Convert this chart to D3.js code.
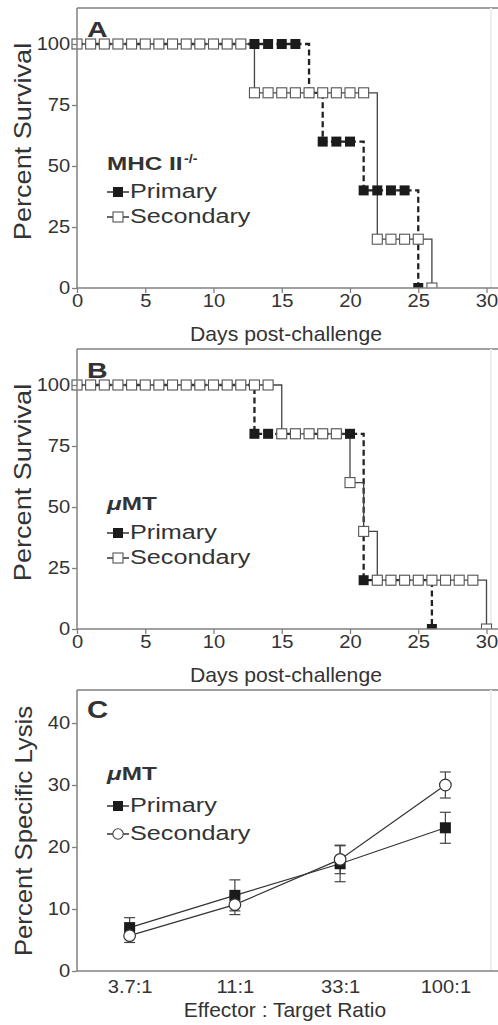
<!DOCTYPE html>
<html>
<head>
<meta charset="utf-8">
<script src="https://cdn.jsdelivr.net/npm/d3@7"></script>
<style>
  body { margin: 0; background: #fff; }
  svg text { font-family: "Liberation Sans", Arial, Helvetica, sans-serif; fill: #333; }
</style>
</head>
<body>
<svg id="fig" width="498" height="1025"></svg>
<script>
// ---- data ----
// survival (%) per day, index = day post-challenge
const primaryA   = [100,100,100,100,100,100,100,100,100,100,100,100,100,100,100,100,100,80,60,60,60,40,40,40,40,0];
const secondaryA = [100,100,100,100,100,100,100,100,100,100,100,100,100,80,80,80,80,80,80,80,80,80,20,20,20,20,0];
const primaryB   = [100,100,100,100,100,100,100,100,100,100,100,100,100,80,80,80,80,80,80,80,80,20,20,20,20,20,0];
const secondaryB = [100,100,100,100,100,100,100,100,100,100,100,100,100,100,100,80,80,80,80,80,60,40,20,20,20,20,20,20,20,20,0];
const dayTicks = [0, 5, 10, 15, 20, 25, 30];
const survivalTicks = [0, 25, 50, 75, 100];

// specific lysis (%), mean and error
const ratios = ["3.7:1", "11:1", "33:1", "100:1"];
const primaryLysis = [7.0, 12.2, 17.3, 23.1];
const primaryErr = [1.6, 2.5, 2.9, 2.5];
const secondaryLysis = [5.7, 10.7, 18.0, 30.0];
const secondaryErr = [1.1, 1.6, 2.3, 2.1];
const lysisTicks = [0, 10, 20, 30, 40];

const svg = d3.select("#fig");
const W = 498;
const left = 77;
const axisColor = "#808080";
const tickFont = 18, tickSx = 1.12;

function addText(parent, x, y, str, o) {
  return parent.append("text")
    .attr("transform", `translate(${x},${y})` + (o.rotate ? ` rotate(${o.rotate})` : "") + ` scale(${o.sx || 1},1)`)
    .attr("text-anchor", o.anchor || "start")
    .style("font-size", o.size + "px")
    .style("font-weight", o.bold ? "bold" : null)
    .style("font-style", o.italic ? "italic" : null)
    .text(str);
}

function frame(g, top, y0) {
  g.append("line").attr("x1", left).attr("x2", W).attr("y1", top).attr("y2", top)
    .attr("stroke", axisColor).attr("stroke-width", 1.5);
  g.append("line").attr("x1", 491).attr("x2", 491).attr("y1", top).attr("y2", y0)
    .attr("stroke", "#eeeeee").attr("stroke-width", 2);
}

function baseLines(g, top, y0) {
  g.append("line").attr("x1", left).attr("x2", left).attr("y1", top).attr("y2", y0)
    .attr("stroke", axisColor).attr("stroke-width", 1.5);
  g.append("line").attr("x1", left).attr("x2", W).attr("y1", y0).attr("y2", y0)
    .attr("stroke", axisColor).attr("stroke-width", 1.5);
}

function styleAxis(ax) {
  ax.attr("font-size", null).attr("font-family", null);
  ax.select(".domain").remove();
  ax.selectAll(".tick line").attr("stroke", axisColor).attr("stroke-width", 1.3);
  ax.selectAll(".tick text")
    .style("font-size", tickFont + "px")
    .attr("fill", "#333")
    .attr("transform", `scale(${tickSx},1)`);
}

// legend entry with little line + marker
function legendEntry(g, yBase, name, kind) {
  const my = yBase - 6;
  g.append("line").attr("x1", 107).attr("x2", 129).attr("y1", my).attr("y2", my)
    .attr("stroke", "#333").attr("stroke-width", 1.5);
  if (kind === "filled") {
    g.append("rect").attr("x", 113).attr("y", my - 5).attr("width", 10).attr("height", 10).attr("fill", "#1b1b1b");
  } else if (kind === "open") {
    g.append("rect").attr("x", 113).attr("y", my - 5).attr("width", 10).attr("height", 10)
      .attr("fill", "#fff").attr("stroke", "#555").attr("stroke-width", 1.1);
  } else {
    g.append("circle").attr("cx", 118).attr("cy", my).attr("r", 5.2)
      .attr("fill", "#fff").attr("stroke", "#444").attr("stroke-width", 1.1);
  }
  addText(g, 130, yBase, name, { size: 21, sx: 1.2 });
}

function survivalPanel(cfg) {
  const g = svg.append("g");
  const top = cfg.top, y0 = cfg.y0;
  const x = d3.scaleLinear().domain([0, 30]).range([left, 486.5]);
  const y = d3.scaleLinear().domain([0, 100]).range([y0, y0 - 244]);

  frame(g, top, y0);

  const clipId = "clip" + cfg.id;
  g.append("clipPath").attr("id", clipId)
    .append("rect").attr("x", 0).attr("y", top).attr("width", W).attr("height", y0 - top);
  const plot = g.append("g").attr("clip-path", `url(#${clipId})`);

  const line = d3.line().x((d, i) => x(i)).y(d => y(d)).curve(d3.curveStepAfter);

  plot.append("path").datum(cfg.primary).attr("d", line)
    .attr("fill", "none").attr("stroke", "#222").attr("stroke-width", 2.3)
    .attr("stroke-dasharray", "6,3.5");
  plot.append("path").datum(cfg.secondary).attr("d", line)
    .attr("fill", "none").attr("stroke", "#444").attr("stroke-width", 1.3);

  plot.selectAll(".pm").data(cfg.primary).join("rect").attr("class", "pm")
    .attr("x", (d, i) => x(i) - 5).attr("y", d => y(d) - 5)
    .attr("width", 10).attr("height", 10).attr("fill", "#1b1b1b");
  plot.selectAll(".sm").data(cfg.secondary).join("rect").attr("class", "sm")
    .attr("x", (d, i) => x(i) - 5).attr("y", d => y(d) - 5)
    .attr("width", 10).attr("height", 10)
    .attr("fill", "#fff").attr("stroke", "#555").attr("stroke-width", 1.1);

  baseLines(g, top, y0);

  const xa = g.append("g").attr("transform", `translate(0,${y0})`)
    .call(d3.axisBottom(x).tickValues(dayTicks).tickSize(5).tickPadding(1));
  styleAxis(xa);
  const ya = g.append("g").attr("transform", `translate(${left},0)`)
    .call(d3.axisLeft(y).tickValues(survivalTicks).tickSize(5).tickPadding(1));
  styleAxis(ya);

  addText(g, 286, y0 + 53, "Days post-challenge", { size: 20, sx: 1.06, anchor: "middle" });
  addText(g, 31, y0 - 146.5, "Percent Survival", { size: 24, sx: 1.13, anchor: "middle", rotate: -90 });
  addText(g, 87, top + 29, cfg.letter, { size: 22, sx: 1.3, bold: true });

  cfg.title(g, top);
  legendEntry(g, top + 190, "Primary", "filled");
  legendEntry(g, top + 215, "Secondary", "open");
}

function muMT(g, yBase) {
  const t = g.append("text")
    .attr("transform", `translate(107,${yBase}) scale(1.28,1)`)
    .style("font-size", "19px").style("font-weight", "bold");
  t.append("tspan").style("font-style", "italic").text("\u03bc");
  t.append("tspan").text("MT");
}

// ---- panel A ----
survivalPanel({
  id: "A", letter: "A", top: 8, y0: 288,
  primary: primaryA, secondary: secondaryA,
  title: (g, top) => {
    addText(g, 107, top + 162, "MHC II", { size: 19, sx: 1.28, bold: true });
    addText(g, 184, top + 155, "-/-", { size: 13, sx: 1.1, bold: true });
  }
});

// ---- panel B ----
survivalPanel({
  id: "B", letter: "B", top: 349, y0: 629,
  primary: primaryB, secondary: secondaryB,
  title: (g, top) => muMT(g, top + 161)
});

// ---- panel C ----
(function () {
  const g = svg.append("g");
  const top = 690, y0 = 971;
  const x = d3.scalePoint().domain(ratios).range([left, W]).padding(0.5);
  const y = d3.scaleLinear().domain([0, 40]).range([y0, 723]);

  frame(g, top, y0);

  const line = d3.line().x((d, i) => x(ratios[i])).y(d => y(d));
  [primaryLysis, secondaryLysis].forEach(s => {
    g.append("path").datum(s).attr("d", line)
      .attr("fill", "none").attr("stroke", "#333").attr("stroke-width", 1.2);
  });

  const errs = [];
  ratios.forEach((r, i) => {
    errs.push({ r, m: primaryLysis[i], e: primaryErr[i] });
    errs.push({ r, m: secondaryLysis[i], e: secondaryErr[i] });
  });
  const eg = g.selectAll(".err").data(errs).join("g").attr("class", "err");
  eg.append("line").attr("x1", d => x(d.r)).attr("x2", d => x(d.r))
    .attr("y1", d => y(d.m - d.e)).attr("y2", d => y(d.m + d.e));
  eg.append("line").attr("x1", d => x(d.r) - 5.5).attr("x2", d => x(d.r) + 5.5)
    .attr("y1", d => y(d.m + d.e)).attr("y2", d => y(d.m + d.e));
  eg.append("line").attr("x1", d => x(d.r) - 5.5).attr("x2", d => x(d.r) + 5.5)
    .attr("y1", d => y(d.m - d.e)).attr("y2", d => y(d.m - d.e));
  eg.selectAll("line").attr("stroke", "#444").attr("stroke-width", 1.2);

  g.selectAll(".pq").data(primaryLysis).join("rect").attr("class", "pq")
    .attr("x", (d, i) => x(ratios[i]) - 5.5).attr("y", d => y(d) - 5.5)
    .attr("width", 11).attr("height", 11).attr("fill", "#1b1b1b");
  g.selectAll(".sc").data(secondaryLysis).join("circle").attr("class", "sc")
    .attr("cx", (d, i) => x(ratios[i])).attr("cy", d => y(d)).attr("r", 5.8)
    .attr("fill", "#fff").attr("stroke", "#333").attr("stroke-width", 1.2);

  baseLines(g, top, y0);

  const xa = g.append("g").attr("transform", `translate(0,${y0})`)
    .call(d3.axisBottom(x).tickSize(0).tickPadding(9));
  styleAxis(xa);
  const ya = g.append("g").attr("transform", `translate(${left},0)`)
    .call(d3.axisLeft(y).tickValues(lysisTicks).tickSize(5).tickPadding(1));
  styleAxis(ya);

  addText(g, 285, 1017, "Effector : Target Ratio", { size: 20, sx: 1.05, anchor: "middle" });
  addText(g, 32, 831, "Percent Specific Lysis", { size: 24, sx: 1.07, anchor: "middle", rotate: -90 });
  addText(g, 87, 718, "C", { size: 23, sx: 1.28, bold: true });

  muMT(g, 780);
  legendEntry(g, 812, "Primary", "filled");
  legendEntry(g, 840, "Secondary", "circle");
})();
</script>
</body>
</html>
